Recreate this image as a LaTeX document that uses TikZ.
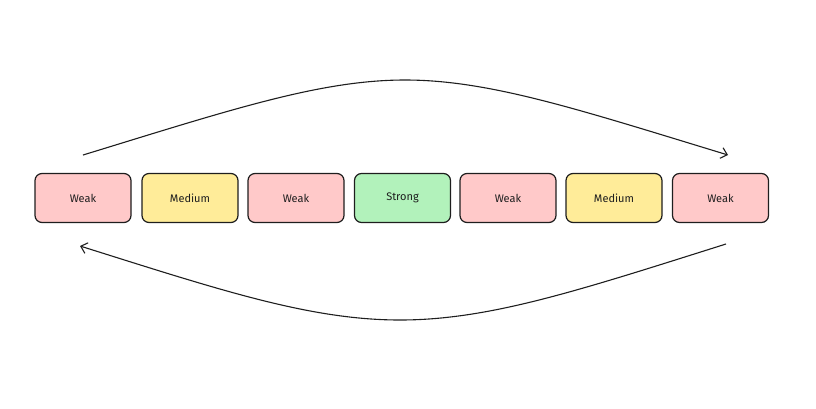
\documentclass[tikz,border=0pt]{standalone}
\usepackage{fontspec}
\setmainfont{Fira Sans}
\usetikzlibrary{arrows.meta}
\definecolor{weakc}{HTML}{FFC9C9}
\definecolor{medc}{HTML}{FFEC99}
\definecolor{strongc}{HTML}{B2F2BB}
\definecolor{inkc}{HTML}{1E1E1E}
\begin{document}
\begin{tikzpicture}[x=1pt,y=-1pt,
  cell/.style={draw=inkc,line width=1.2pt,rounded corners=7pt,minimum width=96pt,minimum height=49pt,inner sep=0pt,font=\fontsize{11}{13}\selectfont,text=inkc},
  weak/.style={cell,fill=weakc},
  med/.style={cell,fill=medc},
  strong/.style={cell,fill=strongc},
  flow/.style={draw=inkc,line width=1.1pt,-{Straight Barb[length=6pt,width=11pt]}}]
\useasboundingbox (0,0) rectangle (816,408);
\node[weak] (b1) at (83,198) {Weak};
\node[med] (b2) at (190,198) {Medium};
\node[weak] (b3) at (296,198) {Weak};
\node[strong] (b4) at (402.5,198) {Strong};
\node[weak] (b5) at (508,198) {Weak};
\node[med] (b6) at (614,198) {Medium};
\node[weak] (b7) at (720.5,198) {Weak};
\coordinate (t1) at (83,155);
\coordinate (t2) at (728,155);
\coordinate (u1) at (726,244);
\coordinate (u2) at (80,246);
\draw[flow] (t1) .. controls (230,110) and (320,80) .. (405,80) .. controls (490,80) and (580,110) .. (t2);
\draw[flow] (u1) .. controls (580,290) and (490,320) .. (400,320) .. controls (310,320) and (220,290) .. (u2);
\end{tikzpicture}
\end{document}
